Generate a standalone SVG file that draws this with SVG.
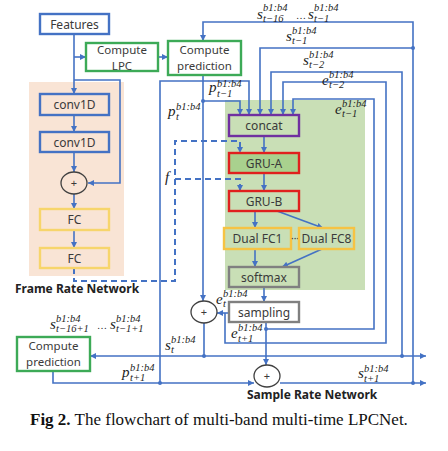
<svg xmlns="http://www.w3.org/2000/svg" width="448" height="451" viewBox="0 0 448 451">
<style>
.bx{stroke-width:2.4}
.t{font-family:"Noto Sans","DejaVu Sans",sans-serif;font-size:12px;fill:#3a3a3a;text-anchor:middle}
.t2{font-size:11.5px}
.ln{stroke:#4472C4;stroke-width:1.6;fill:none}
.da{stroke:#4472C4;stroke-width:2;fill:none;stroke-dasharray:6 4}
.m{font-family:"Liberation Serif","DejaVu Serif",serif;font-style:italic;fill:#222;font-size:15px}
.s{font-size:10.5px}
.pl{fill:none;stroke:#404040;stroke-width:1.3}
.dot{fill:#4472C4}
.ttl{font-family:"Noto Sans","DejaVu Sans",sans-serif;font-size:12px;font-weight:bold;fill:#222}
</style>
<defs>
<marker id="ar" viewBox="0 0 8 8" refX="8" refY="4" markerWidth="6" markerHeight="6" markerUnits="userSpaceOnUse" orient="auto">
<path d="M0,0 L8,4 L0,8 z" fill="#4472C4"/>
</marker>
</defs>
<rect width="448" height="451" fill="#fff"/>
<g id="backgrounds">
<rect x="29" y="82" width="95" height="194" fill="#F9E4D5"/>
<rect x="225" y="100" width="140" height="190" fill="#C9DFB6"/>
</g>
<g id="connectors">
<path class="ln" d="M74,34 V94" marker-end="url(#ar)"/>
<path class="ln" d="M74,57 H86" marker-end="url(#ar)"/>
<path class="ln" d="M74,80 H120 V183 H88" marker-end="url(#ar)"/>
<path class="ln" d="M158,57 H168" marker-end="url(#ar)"/>
<path class="ln" d="M74,115 V132" marker-end="url(#ar)"/>
<path class="ln" d="M74,152 V172" marker-end="url(#ar)"/>
<path class="ln" d="M74,194 V209" marker-end="url(#ar)"/>
<path class="ln" d="M74,230 V248" marker-end="url(#ar)"/>
<path class="da" d="M74,268 V281 H175 V141 H240 V153" marker-end="url(#ar)"/>
<path class="da" d="M175,179 H240 V191" marker-end="url(#ar)"/>
<path class="ln" d="M413,383 V22 H203 V41" marker-end="url(#ar)"/>
<path class="ln" d="M413,48 H260 V115" marker-end="url(#ar)"/>
<path class="ln" d="M402,356 V72 H271 V115" marker-end="url(#ar)"/>
<path class="ln" d="M225,313 V343 H386 V82 H283 V115" marker-end="url(#ar)"/>
<path class="ln" d="M266,329 H374 V99 H293 V115" marker-end="url(#ar)"/>
<path class="ln" d="M203,101 H240 V115" marker-end="url(#ar)"/>
<path class="ln" d="M160,383 V81 H249 V115" marker-end="url(#ar)"/>
<path class="ln" d="M203,75 V301" marker-end="url(#ar)"/>
<path class="ln" d="M264,136 V153" marker-end="url(#ar)"/>
<path class="ln" d="M264,173 V191" marker-end="url(#ar)"/>
<path class="ln" d="M255,211 V228" marker-end="url(#ar)"/>
<path class="ln" d="M277,211 L323,228" marker-end="url(#ar)"/>
<path class="ln" d="M255,249 V267" marker-end="url(#ar)"/>
<path class="ln" d="M322,249 L282,267" marker-end="url(#ar)"/>
<path class="ln" d="M264,287 V302" marker-end="url(#ar)"/>
<path class="ln" d="M229,313 H217" marker-end="url(#ar)"/>
<path class="ln" d="M266,322 V365" marker-end="url(#ar)"/>
<path class="ln" d="M204,323 V356 H90" marker-end="url(#ar)"/>
<path class="ln" d="M204,356 H426" marker-end="url(#ar)"/>
<path class="ln" d="M53,371 V383 H254" marker-end="url(#ar)"/>
<path class="ln" d="M280,383 H426" marker-end="url(#ar)"/>
<circle class="dot" cx="413" cy="48" r="2"/>
<circle class="dot" cx="203" cy="101" r="2"/>
<circle class="dot" cx="402" cy="356" r="2"/>
<circle class="dot" cx="413" cy="383" r="2"/>
<circle class="dot" cx="204" cy="356" r="2"/>
<circle class="dot" cx="160" cy="383" r="2"/>
<circle class="dot" cx="266" cy="329" r="2"/>
</g>
<g id="features"><rect class="bx" x="40" y="14" width="69" height="20" fill="#fff" stroke="#4472C4"/><text class="t" x="74.5" y="28.5">Features</text></g>
<g id="computeLPC"><rect class="bx" x="86" y="43" width="72" height="28" fill="#fff" stroke="#3DAA57"/><text class="t t2"><tspan x="122" y="54">Compute</tspan><tspan x="122" y="70">LPC</tspan></text></g>
<g id="computePrediction"><rect class="bx" x="168" y="41" width="73" height="34" fill="#fff" stroke="#3DAA57"/><text class="t t2"><tspan x="204.5" y="54">Compute</tspan><tspan x="204.5" y="70">prediction</tspan></text></g>
<g id="conv1"><rect class="bx" x="40" y="94" width="69" height="21" fill="#F9E4D5" stroke="#4472C4"/><text class="t" x="74.5" y="109">conv1D</text></g>
<g id="conv2"><rect class="bx" x="40" y="132" width="69" height="20" fill="#F9E4D5" stroke="#4472C4"/><text class="t" x="74.5" y="146.5">conv1D</text></g>
<g id="plusFrame"><ellipse class="pl" cx="74" cy="183" rx="13" ry="11"/><text class="t" x="74" y="187" style="font-size:11px">+</text></g>
<g id="fc1"><rect class="bx" x="40" y="209" width="69" height="21" fill="#F9E4D5" stroke="#F7D56B"/><text class="t" x="74.5" y="224">FC</text></g>
<g id="fc2"><rect class="bx" x="40" y="248" width="69" height="20" fill="#F9E4D5" stroke="#F7D56B"/><text class="t" x="74.5" y="262.5">FC</text></g>
<text class="ttl" x="15" y="293">Frame Rate Network</text>
<g id="concat"><rect class="bx" x="229" y="115" width="70" height="21" fill="#C9DFB6" stroke="#7030A0"/><text class="t" x="264" y="130">concat</text></g>
<g id="gruA"><rect class="bx" x="229" y="153" width="70" height="20" fill="#A9D18E" stroke="#E0201D"/><text class="t" x="264" y="167.5">GRU-A</text></g>
<g id="gruB"><rect class="bx" x="229" y="191" width="70" height="20" fill="#C9DFB6" stroke="#E0201D"/><text class="t" x="264" y="205.5">GRU-B</text></g>
<g id="dualFC1"><rect class="bx" x="224" y="228" width="67" height="21" fill="#C9DFB6" stroke="#F6C343"/><text class="t" x="257.5" y="243">Dual FC1</text></g>
<text class="t" x="295" y="242" style="font-size:10px">···</text>
<g id="dualFC8"><rect class="bx" x="299" y="228" width="55" height="21" fill="#C9DFB6" stroke="#F6C343"/><text class="t" x="326.5" y="243">Dual FC8</text></g>
<g id="softmax"><rect class="bx" x="229" y="267" width="70" height="20" fill="#C9DFB6" stroke="#808080"/><text class="t" x="264" y="281.5">softmax</text></g>
<g id="sampling"><rect class="bx" x="229" y="302" width="70" height="20" fill="#fff" stroke="#808080"/><text class="t" x="264" y="316.5">sampling</text></g>
<g id="plusE"><ellipse class="pl" cx="204" cy="312" rx="13" ry="11" fill="#fff"/><text class="t" x="204" y="316" style="font-size:11px">+</text></g>
<g id="plusS"><ellipse class="pl" cx="267" cy="376" rx="13" ry="11" fill="#fff"/><text class="t" x="267" y="380" style="font-size:11px">+</text></g>
<g id="computePrediction2"><rect class="bx" x="17" y="337" width="73" height="34" fill="#fff" stroke="#3DAA57"/><text class="t t2"><tspan x="53.5" y="350">Compute</tspan><tspan x="53.5" y="366">prediction</tspan></text></g>
<text class="ttl" x="247" y="399">Sample Rate Network</text>
<g id="labels">
<text class="m"><tspan x="257" y="19">s</tspan><tspan class="s" x="263" y="11">b1:b4</tspan><tspan class="s" x="263" y="22">t−16</tspan><tspan x="296" y="19" style="font-style:normal;font-size:10px">…</tspan><tspan x="308" y="19">s</tspan><tspan class="s" x="314" y="11">b1:b4</tspan><tspan class="s" x="314" y="22">t−1</tspan></text>
<text class="m"><tspan x="286" y="41">s</tspan><tspan class="s" x="292" y="34">b1:b4</tspan><tspan class="s" x="292" y="44">t−1</tspan></text>
<text class="m"><tspan x="303" y="65">s</tspan><tspan class="s" x="309" y="58">b1:b4</tspan><tspan class="s" x="309" y="68">t−2</tspan></text>
<text class="m"><tspan x="322" y="85">e</tspan><tspan class="s" x="329" y="78">b1:b4</tspan><tspan class="s" x="329" y="88">t−2</tspan></text>
<text class="m"><tspan x="335" y="114">e</tspan><tspan class="s" x="342" y="107">b1:b4</tspan><tspan class="s" x="342" y="117">t−1</tspan></text>
<text class="m"><tspan x="209" y="92">p</tspan><tspan class="s" x="217" y="87">b1:b4</tspan><tspan class="s" x="217" y="96.5">t−1</tspan></text>
<text class="m"><tspan x="168" y="116">p</tspan><tspan class="s" x="176" y="110">b1:b4</tspan><tspan class="s" x="176" y="120">t</tspan></text>
<text class="m" x="165" y="182">f</text>
<text class="m"><tspan x="216" y="304">e</tspan><tspan class="s" x="223" y="297">b1:b4</tspan><tspan class="s" x="223" y="307">t</tspan></text>
<text class="m"><tspan x="231" y="338">e</tspan><tspan class="s" x="238" y="331">b1:b4</tspan><tspan class="s" x="238" y="342">t+1</tspan></text>
<text class="m"><tspan x="165" y="350">s</tspan><tspan class="s" x="171" y="343">b1:b4</tspan><tspan class="s" x="171" y="353">t</tspan></text>
<text class="m"><tspan x="122" y="377">p</tspan><tspan class="s" x="130" y="371">b1:b4</tspan><tspan class="s" x="130" y="381">t+1</tspan></text>
<text class="m"><tspan x="50" y="329">s</tspan><tspan class="s" x="56" y="322">b1:b4</tspan><tspan class="s" x="56" y="332">t−16+1</tspan><tspan x="97" y="329" style="font-style:normal;font-size:10px">…</tspan><tspan x="110" y="329">s</tspan><tspan class="s" x="116" y="322">b1:b4</tspan><tspan class="s" x="116" y="332">t−1+1</tspan></text>
<text class="m"><tspan x="358" y="378">s</tspan><tspan class="s" x="364" y="372">b1:b4</tspan><tspan class="s" x="364" y="382">t+1</tspan></text>
</g>
<text x="30" y="425" style="font-family:'Liberation Serif','Times New Roman',serif;font-size:17px;fill:#111"><tspan font-weight="bold">Fig 2.</tspan> The flowchart of multi-band multi-time LPCNet.</text>
</svg>
